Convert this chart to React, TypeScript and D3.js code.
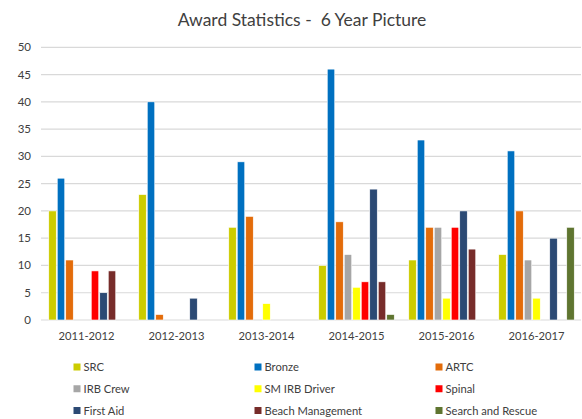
import React from "react";
import * as d3 from "d3";

const categories = ["2011-2012", "2012-2013", "2013-2014", "2014-2015", "2015-2016", "2016-2017"];
const seriesNames = ["SRC", "Bronze", "ARTC", "IRB Crew", "SM IRB Driver", "Spinal", "First Aid", "Beach Management", "Search and Rescue"];
const seriesColors = ["#CCCC00", "#0070C0", "#E36C0A", "#A6A6A6", "#FFFF00", "#FF0000", "#2C4A74", "#772C2A", "#5F7530"];
const SRC = [20, 23, 17, 10, 11, 12];
const Bronze = [26, 40, 29, 46, 33, 31];
const ARTC = [11, 1, 19, 18, 17, 20];
const IRBCrew = [0, 0, 0, 12, 17, 11];
const SMIRBDriver = [0, 0, 3, 6, 4, 4];
const Spinal = [9, 0, 0, 7, 17, 0];
const FirstAid = [5, 4, 0, 24, 20, 15];
const BeachManagement = [9, 0, 0, 7, 13, 0];
const SearchAndRescue = [0, 0, 0, 1, 0, 17];
const yTicks = [0, 5, 10, 15, 20, 25, 30, 35, 40, 45, 50];

const seriesValues = [SRC, Bronze, ARTC, IRBCrew, SMIRBDriver, Spinal, FirstAid, BeachManagement, SearchAndRescue];

const W = 582;
const H = 419;
const FONT = "Lato, 'Open Sans', sans-serif";

export default function App() {
  const x0 = d3.scaleBand<string>().domain(categories).range([41.5, 581.5]).paddingInner(0.15).paddingOuter(0.075);
  const x1 = d3.scaleBand<string>().domain(seriesNames).range([0, x0.bandwidth()]).padding(0);
  const y = d3.scaleLinear().domain([0, 50]).range([320, 47.3]);

  const legendX = d3.scalePoint<number>().domain([0, 1, 2]).range([73.5, 435.5]);
  const legendY = d3.scalePoint<number>().domain([0, 1, 2]).range([367, 410.5]);

  return (
    <svg width={W} height={H} style={{ position: "absolute", left: 0, top: 0, background: "#fff" }}>
      <rect x={0} y={0} width={W} height={H} fill="#fff" />
      <text x={302} y={26} textAnchor="middle" fontFamily={FONT} fontSize={17.5} fill="#404040" style={{ whiteSpace: "pre" }}>
        {"Award Statistics -  6 Year Picture"}
      </text>
      {yTicks.map((t) => (
        <g key={t}>
          <line x1={41} x2={581} y1={y(t)} y2={y(t)} stroke="#D9D9D9" strokeWidth={1.2} />
          <text x={31} y={y(t) + 4} textAnchor="end" fontFamily={FONT} fontSize={11.5} fill="#404040">
            {t}
          </text>
        </g>
      ))}
      {categories.map((c, ci) => (
        <g key={c} transform={`translate(${x0(c)},0)`}>
          {seriesNames.map((s, si) => {
            const v = seriesValues[si][ci];
            if (!v) return null;
            return (
              <rect
                key={s}
                x={x1(s)! + 0.5}
                y={y(v)}
                width={x1.bandwidth() - 1}
                height={y(0) - y(v)}
                fill={seriesColors[si]}
                stroke="#fff"
                strokeWidth={0.6}
              />
            );
          })}
          <text x={x0.bandwidth() / 2} y={340} textAnchor="middle" fontFamily={FONT} fontSize={11.2} fill="#404040">
            {c}
          </text>
        </g>
      ))}
      {seriesNames.map((s, i) => {
        const col = i % 3;
        const row = Math.floor(i / 3);
        const lx = legendX(col)!;
        const ly = legendY(row)!;
        return (
          <g key={s}>
            <rect x={lx} y={ly - 3.5} width={7} height={7} fill={seriesColors[i]} />
            <text x={lx + 10} y={ly + 4} fontFamily={FONT} fontSize={11.2} fill="#404040">
              {s}
            </text>
          </g>
        );
      })}
    </svg>
  );
}
